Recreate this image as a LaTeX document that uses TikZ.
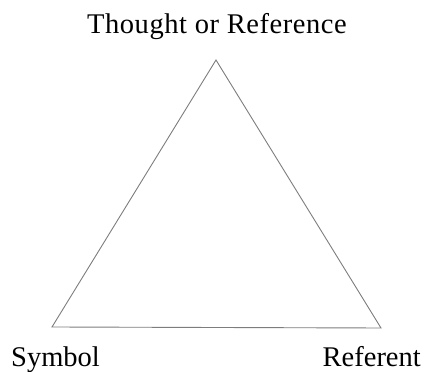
\documentclass[tikz,border=0pt]{standalone}
\usepackage{fontspec}
\setmainfont{Liberation Serif}
\usetikzlibrary{positioning}
\definecolor{otgray}{RGB}{125,125,125}
\begin{document}
\begin{tikzpicture}[x=1pt,y=1pt,
  otlabel/.style={font=\fontsize{28.5}{32}\selectfont,inner sep=0pt}]
  \useasboundingbox (0,0) rectangle (424,372);
  % --- triangle corners ---
  \coordinate (thought) at (216,312);
  \coordinate (symbol) at (52,45);
  \coordinate (referent) at (381,44);
  \draw[otgray,line width=0.9pt,line join=miter] (thought) -- (referent) -- (symbol) -- cycle;
  % --- labels ---
  \node[otlabel,anchor=base] (thoughtlab) at (217,338)
    {\addfontfeatures{LetterSpace=2}Thought or Reference};
  \node[otlabel,anchor=base west] (symbollab) at (11,5) {Symbol};
  \node[otlabel,anchor=base east] (referentlab) at (421,5) {Referent};
\end{tikzpicture}
\end{document}
